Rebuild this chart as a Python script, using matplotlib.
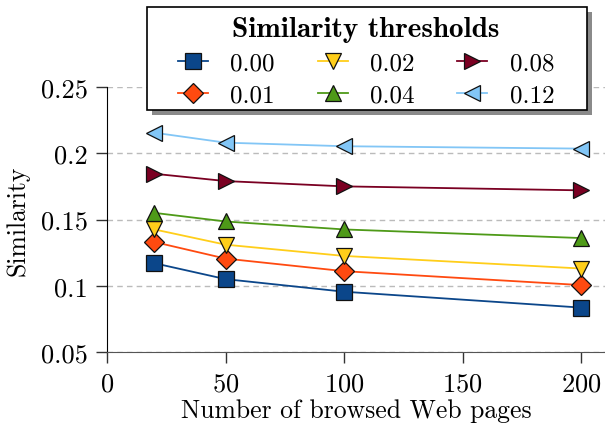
import matplotlib
matplotlib.use("Agg")
import matplotlib.pyplot as plt
from matplotlib.font_manager import FontProperties
from matplotlib.patches import Rectangle

plt.rcParams['font.family'] = 'cmr10'
plt.rcParams['mathtext.fontset'] = 'cm'
plt.rcParams['axes.formatter.use_mathtext'] = True

# data
pages = [20, 50, 100, 200]
thresholds = ['0.00', '0.01', '0.02', '0.04', '0.08', '0.12']
sim_000 = [0.117, 0.105, 0.0955, 0.0835]
sim_001 = [0.133, 0.1205, 0.111, 0.1005]
sim_002 = [0.1425, 0.131, 0.1225, 0.113]
sim_004 = [0.155, 0.1485, 0.1425, 0.136]
sim_008 = [0.1845, 0.179, 0.175, 0.172]
sim_012 = [0.2155, 0.208, 0.2053, 0.2035]
series = [sim_000, sim_001, sim_002, sim_004, sim_008, sim_012]

xticks = [0, 50, 100, 150, 200]
yticks = [0.05, 0.1, 0.15, 0.2, 0.25]
ytick_labels = ['0.05', '0.1', '0.15', '0.2', '0.25']

colors = ['#0B468A', '#FF4A10', '#FFCE1A', '#4E9A18', '#7A0022', '#82C6F6']
markers = ['s', 'D', 'v', '^', '>', '<']
msizes = [11.5, 9.8, 11.3, 11.3, 11.3, 11.3]

W, H = 605, 427
fig = plt.figure(figsize=(W / 100, H / 100), dpi=100)
ax = fig.add_axes([107 / W, 1 - 353 / H, 1 - 107 / W, (353 - 88) / H])

for vals, lab, c, m, ms in zip(series, thresholds, colors, markers, msizes):
    ax.plot(pages, vals, color=c, lw=1.3, marker=m, markersize=ms,
            markerfacecolor=c, markeredgecolor='#111111', markeredgewidth=0.9,
            label=lab, zorder=3)

ax.set_xlim(0, 210)
ax.set_ylim(0.05, 0.25)
ax.set_xticks(xticks)
ax.set_yticks(yticks)
ax.set_yticklabels(ytick_labels)
ax.tick_params(labelsize=19, length=8, width=1, pad=6, direction='out', color='#333333')
ax.yaxis.grid(True, color='#bbbbbb', linestyle=(0, (4, 3)), lw=1)
ax.set_axisbelow(True)
for s in ['top', 'right']:
    ax.spines[s].set_visible(False)
ax.spines['bottom'].set_color('#555555')
ax.spines['left'].set_color('black')

ax.set_xlabel('Number of browsed Web pages', fontsize=18.5, labelpad=2)
ax.set_ylabel('Similarity', fontsize=18.5, labelpad=8)

# legend box with a drop shadow, drawn by hand like pgfplots does
x0, y0, x1, y1 = 147, 8, 587, 111
fig.add_artist(Rectangle(((x0 + 5) / W, 1 - (y1 + 5) / H), (x1 - x0) / W, (y1 - y0) / H,
                         transform=fig.transFigure, facecolor='#8a8a8a', edgecolor='none', zorder=4))
fig.add_artist(Rectangle((x0 / W, 1 - y1 / H), (x1 - x0) / W, (y1 - y0) / H,
                         transform=fig.transFigure, facecolor='white', edgecolor='black',
                         lw=1.2, zorder=4.5))

leg = fig.legend(loc='upper center', bbox_to_anchor=(366 / W, 1 + 2 / H), ncol=3,
                 fontsize=18, title='Similarity thresholds',
                 title_fontproperties=FontProperties(family='cmb10', size=21),
                 frameon=False, handlelength=1.2, handletextpad=0.9, columnspacing=1.7,
                 labelspacing=0.4, borderpad=0.25)
leg.set_zorder(5)

fig.savefig('out.png', dpi=100)
